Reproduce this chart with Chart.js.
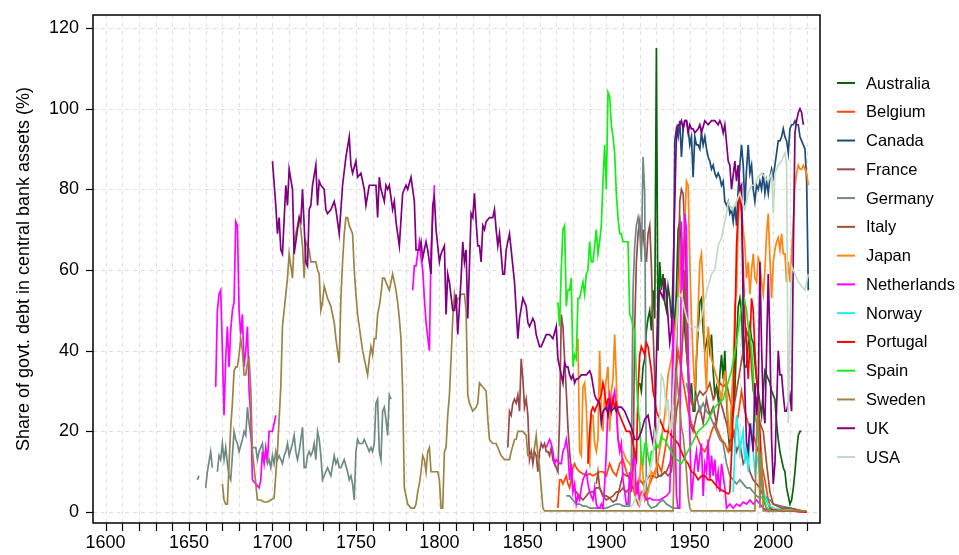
<!DOCTYPE html>
<html>
<head>
<meta charset="utf-8">
<script src="https://cdn.jsdelivr.net/npm/chart.js@4.4.1/dist/chart.umd.min.js"></script>
<style>
  html, body { margin: 0; padding: 0; background: #fff; }
  #wrap { width: 959px; height: 555px; }
</style>
</head>
<body>
<div id="wrap"><canvas id="chart" width="959" height="555"></canvas></div>
<script>
// --- data: [year, share %] ---
const countries = ["Australia","Belgium","Canada","France","Germany","Italy","Japan",
                   "Netherlands","Norway","Portugal","Spain","Sweden","UK","USA"];

const australia = [[1920,32],[1921,30],[1922,36],[1923,38],[1924,45],[1925,48],[1926,50],[1927,45],[1928,55],[1929,48],[1930,115],[1931,40],[1932,62],[1933,55],[1934,59],[1935,52],[1936,50],[1937,56],[1938,53],[1939,48],[1940,52],[1941,45],[1942,55],[1943,70],[1944,72],[1945,60],[1946,59],[1947,45],[1948,40],[1949,35],[1950,28],[1951,32],[1952,25],[1953,25],[1954,38],[1955,45],[1956,52],[1957,53],[1958,45],[1959,40],[1960,42],[1961,44],[1962,40],[1963,44],[1964,35],[1965,29],[1966,31],[1967,28],[1968,34],[1969,39],[1970,33],[1971,40],[1972,28],[1973,20],[1974,15],[1975,25],[1976,24],[1977,30],[1978,42],[1979,51],[1980,53],[1981,49],[1982,38],[1983,36],[1984,36],[1985,42],[1986,46],[1987,43],[1988,42],[1989,37],[1990,33],[1991,30],[1992,27],[1993,24],[1994,30],[1995,35],[1996,34],[1997,33],[1998,32],[1999,30],[2000,29],[2001,28],[2002,22],[2003,18],[2004,15],[2005,13],[2006,11],[2007,10],[2008,6],[2009,4],[2010,2],[2011,3],[2012,6],[2013,10],[2014,15],[2015,19],[2016,20],[2017,20]];

const belgium = [[1871,1],[1872,8],[1873,8],[1874,7],[1875,8],[1876,9],[1877,7],[1878,6],[1879,8],[1880,11],[1881,12],[1882,11],[1884,10],[1886,9.5],[1888,9],[1890,9.5],[1892,9],[1894,9.5],[1896,10],[1898,10],[1900,9],[1902,12],[1904,10],[1906,9],[1908,12],[1910,13],[1912,10],[1914,8],[1916,6],[1917,4.5],[1918,3],[1919,2],[1920,4],[1921,5],[1923,4],[1925,6],[1927,8],[1929,10],[1931,12],[1933,10],[1935,15],[1937,20],[1939,25],[1941,30],[1943,40],[1945,35],[1947,30],[1949,25],[1951,22],[1953,20],[1955,18],[1957,16],[1959,15],[1961,17],[1963,20],[1965,22],[1967,20],[1969,18],[1971,17],[1973,15],[1975,18],[1977,20],[1979,24],[1981,30],[1983,25],[1985,22],[1987,20],[1989,18],[1991,15],[1993,12],[1995,8],[1997,3],[1999,0.5],[2005,0.3],[2010,0.3],[2020,0]];

const canada = [[1940,44],[1941,92],[1942,95],[1943,93],[1944,97],[1945,88],[1946,95],[1947,97],[1948,97],[1949,95],[1950,91],[1951,93],[1952,83],[1953,93],[1954,91],[1955,91],[1956,90],[1957,94],[1958,91],[1959,93],[1960,90],[1961,88],[1962,87],[1963,85],[1964,86],[1965,84],[1966,83],[1967,84],[1968,83],[1969,81],[1970,82],[1971,77],[1972,76],[1973,77],[1974,74],[1975,75],[1976,72],[1977,76],[1978,71],[1979,80],[1980,86],[1981,91],[1982,86],[1983,76],[1984,85],[1985,91],[1986,84],[1987,86],[1988,80],[1989,77],[1990,81],[1991,80],[1992,82],[1993,80],[1994,84],[1995,79],[1996,82],[1997,79],[1998,83],[1999,85],[2000,83],[2001,86],[2002,89],[2003,92],[2004,92],[2005,93],[2006,95],[2007,93],[2008,92],[2009,89],[2010,95],[2011,96],[2012,96],[2013,97],[2014,96],[2015,96],[2016,93],[2017,92],[2018,91],[2019,90],[2020,82],[2021,55]];

const france = [[1841,16],[1842,25],[1843,24],[1844,27],[1845,28],[1846,27],[1847,29],[1848,25],[1849,38],[1850,33],[1851,26],[1852,28],[1853,24],[1854,13],[1855,15],[1856,12],[1857,15],[1858,14],[1859,10],[1860,15],[1861,17],[1862,16],[1863,17],[1864,15],[1865,15],[1866,14],[1867,16],[1868,13],[1869,12],[1870,11],[1871,10],[1872,23],[1873,49],[1874,46],[1875,38],[1876,30],[1877,21],[1878,15],[1879,10],[1880,6],[1882,5],[1884,4],[1886,3],[1888,4],[1890,5],[1892,5],[1894,6],[1896,6],[1898,4],[1900,3],[1902,3.5],[1904,2.5],[1906,3],[1908,6],[1910,9.6],[1912,9],[1914,9],[1916,10],[1917,46],[1918,62],[1919,69],[1920,72],[1921,66],[1922,70],[1923,65],[1924,62],[1925,69],[1926,71],[1927,61],[1928,45],[1929,33],[1930,12],[1931,9],[1933,9],[1935,10],[1937,9],[1939,10],[1940,15],[1941,25],[1942,40],[1943,54],[1944,77],[1945,80],[1946,79],[1947,70],[1948,55],[1949,35],[1950,22],[1952,20],[1954,24],[1956,26],[1958,22],[1960,28],[1962,24],[1964,26],[1966,22],[1968,28],[1970,25],[1972,22],[1974,18],[1976,20],[1978,15],[1980,17],[1982,12],[1984,14],[1986,10],[1988,8],[1990,7],[1992,6],[1994,4],[1996,3],[1998,1],[2000,0.5],[2005,0.3],[2010,0.5],[2015,0.3],[2020,0]];

const germany = [[1655,8],[1656,9],[1657,null],[1660,6],[1661,10],[1663,15],[1664,11],[1665,null],[1667,10],[1668,14],[1669,13],[1670,17],[1671,13],[1672,16],[1673,12],[1674,9],[1675,8],[1676,14],[1677,20],[1678,18],[1679,17],[1680,15],[1682,18],[1683,20],[1684,19],[1685,26],[1686,22],[1687,19],[1688,16],[1689,16],[1690,16],[1691,13],[1692,15],[1694,17],[1695,13],[1696,14],[1697,12],[1698,13],[1699,11],[1700,14],[1701,12],[1702,15],[1703,13],[1704,14],[1705,13],[1706,12],[1707,14],[1708,15],[1709,17],[1710,14],[1712,17],[1713,19],[1714,15],[1715,13],[1716,15],[1718,21],[1719,11],[1720,11],[1721,14],[1722,15],[1723,14],[1724,15],[1725,17],[1726,13],[1727,20],[1728,18],[1729,14],[1730,8],[1731,9],[1732,10],[1733,11],[1734,10],[1735,9],[1737,14],[1738,12],[1739,13],[1740,11],[1741,11],[1742,12],[1743,13],[1745,10],[1746,8],[1747,9],[1748,7],[1749,3],[1750,15],[1751,18],[1752,17],[1753,17],[1754,17],[1755,18],[1756,17],[1757,16],[1758,15],[1759,16],[1760,15],[1761,17],[1762,27],[1763,28],[1764,15],[1765,13],[1766,25],[1767,26],[1768,23],[1769,19],[1770,29],[1771,28],[1772,null],
  [1876,4],[1878,4],[1880,3],[1882,2],[1884,2],[1886,1.5],[1888,1.5],[1890,1],[1893,1],[1896,1],[1900,1],[1903,1.5],[1906,2],[1908,2],[1910,1.5],[1912,1.5],[1914,1.5],[1915,13],[1916,55],[1917,66],[1918,71],[1919,73],[1920,70],[1921,62],[1922,88],[1923,79],[1924,5],[1925,2],[1927,1],[1930,1.5],[1932,2.5],[1934,3],[1936,2],[1938,1.5],[1940,1],[1942,1],[1944,1],[1946,null],[1948,32],[1950,28],[1952,26],[1954,29],[1956,25],[1958,27],[1960,25],[1962,24],[1964,22],[1966,20],[1968,18],[1970,17],[1972,12],[1974,9],[1976,8],[1978,7],[1980,8],[1982,7],[1984,6],[1986,6],[1988,5],[1990,4],[1992,3.5],[1995,4],[1998,3],[2000,2],[2005,1.5],[2010,1],[2015,0.5],[2020,0.2]];

const italy = [[1894,7],[1895,10],[1896,6],[1897,5],[1898,4],[1900,4],[1902,3.5],[1904,4],[1906,5],[1908,5],[1910,6],[1912,5],[1914,6],[1916,6],[1918,7],[1920,8],[1922,7],[1924,8],[1926,9],[1928,9],[1930,8.5],[1932,9],[1934,9.5],[1936,10],[1938,12],[1940,15],[1942,25],[1944,30],[1946,45],[1947,60],[1948,40],[1950,30],[1952,26],[1954,28],[1956,30],[1958,29],[1960,30],[1962,32],[1964,28],[1966,30],[1968,32],[1970,31],[1972,32],[1974,28],[1976,25],[1978,30],[1980,35],[1982,40],[1984,45],[1986,42],[1988,30],[1990,28],[1992,22],[1994,20],[1996,12],[1998,5],[2000,2],[2005,1],[2010,1],[2015,0.5],[2020,0]];

const japan = [[1882,40],[1883,43],[1884,15],[1885,14],[1886,31],[1887,32],[1888,26],[1889,14],[1890,12],[1891,24],[1892,24],[1893,17],[1894,15],[1895,18],[1896,40],[1897,25],[1898,20],[1899,30],[1900,33],[1901,36],[1902,20],[1903,30],[1904,33],[1905,44],[1906,33],[1907,18],[1908,17],[1909,15],[1910,15],[1912,13],[1914,12],[1916,10],[1917,5.5],[1918,4],[1920,8],[1921,15],[1922,9],[1923,3],[1925,5],[1927,10],[1929,9],[1931,13],[1933,18],[1935,24],[1937,34],[1939,38],[1941,45],[1943,53],[1944,60],[1945,68],[1946,62],[1947,72],[1948,82],[1949,81],[1950,62],[1951,48],[1952,38],[1953,30],[1954,38],[1955,50],[1956,62],[1957,64],[1958,55],[1959,38],[1960,30],[1961,46],[1962,42],[1963,38],[1965,35],[1967,32],[1969,28],[1971,35],[1972,30],[1973,22],[1974,18],[1975,28],[1976,35],[1977,51],[1978,55],[1979,72],[1980,80],[1981,75],[1982,70],[1983,66],[1984,58],[1985,62],[1986,54],[1987,60],[1988,64],[1989,58],[1990,57],[1991,63],[1992,62],[1993,57],[1994,54],[1995,60],[1996,69],[1997,74],[1998,63],[1999,53],[2000,62],[2001,65],[2002,67],[2003,68],[2004,65],[2005,69],[2006,64],[2007,64],[2008,57],[2009,62],[2010,57],[2011,64],[2012,72],[2013,81],[2014,84],[2015,86],[2016,85],[2017,85],[2018,86],[2019,85],[2020,84],[2021,81]];

const netherlands = [[1666,31],[1667,50],[1668,54],[1669,55],[1670,40],[1671,24],[1672,38],[1673,46],[1674,36],[1675,45],[1676,50],[1677,52],[1678,72],[1679,71],[1680,50],[1681,44],[1682,49],[1683,36],[1684,40],[1685,46],[1686,30],[1687,24],[1688,8],[1690,7],[1692,6],[1693,8],[1694,15],[1695,12],[1696,16],[1697,13],[1698,20],[1700,20],[1702,24],[1703,null],
  [1784,55],[1785,61],[1786,61],[1788,67],[1789,63],[1790,60],[1791,53],[1792,47],[1794,40],[1795,65],[1797,81],[1798,null],
  [1864,16],[1866,18],[1867,17],[1868,15],[1869,12],[1870,13],[1872,12],[1873,12],[1874,15],[1875,16],[1876,18],[1877,15],[1878,8],[1879,12],[1880,5],[1881,7],[1882,2],[1883,4],[1884,3],[1885,6],[1886,8],[1887,9],[1888,10],[1889,7],[1890,5],[1891,4],[1892,3],[1893,6],[1894,2],[1895,1],[1896,1],[1897,2],[1898,1],[1899,7],[1900,15],[1901,26],[1902,29],[1903,26],[1904,28],[1905,30],[1906,25],[1907,18],[1908,15],[1909,17],[1910,8],[1911,5],[1912,2],[1913,2],[1914,10],[1915,5],[1916,13],[1917,14],[1918,4],[1919,7],[1920,2],[1922,5],[1924,3],[1926,3.5],[1928,3],[1930,3],[1932,3],[1934,3.5],[1936,4],[1938,5],[1939,20],[1940,48],[1941,25],[1942,4],[1943,1],[1944,1],[1945,72],[1946,55],[1947,74],[1948,70],[1949,40],[1950,20],[1951,3],[1952,8],[1953,12],[1954,15],[1955,10],[1956,14],[1957,17],[1958,4],[1959,12],[1960,10],[1961,18],[1962,8],[1963,14],[1964,9],[1965,13],[1966,7],[1967,10],[1968,5],[1969,12],[1970,9],[1971,6],[1972,1],[1974,2],[1976,1],[1978,2],[1980,1.5],[1982,2.5],[1984,2],[1986,3],[1988,2],[1990,3],[1992,2],[1994,1],[1996,0.5],[1998,0]];

const norway = [[1976,5],[1977,15],[1978,24],[1979,20],[1980,15],[1981,18],[1982,20],[1983,12],[1984,17],[1985,10],[1986,18],[1987,22],[1988,15],[1989,10],[1990,12],[1991,14],[1992,9],[1993,10],[1994,6],[1995,4],[1996,3],[1997,2],[1998,1.5],[2000,1],[2005,0.5],[2010,0.5],[2020,0]];

const portugal = [[1889,12],[1890,20],[1891,25],[1892,26],[1893,25],[1894,26],[1895,27],[1896,28],[1897,29],[1898,32],[1899,30],[1900,26],[1901,28],[1902,28],[1903,25],[1904,28],[1905,26],[1906,27],[1907,25],[1908,24],[1909,23],[1910,22],[1911,21],[1912,20],[1913,20],[1914,20],[1915,19],[1916,17],[1917,15],[1918,13],[1919,30],[1920,39],[1921,41],[1922,40],[1923,39],[1924,42],[1925,41],[1926,38],[1927,35],[1928,30],[1929,28],[1930,25],[1931,24],[1933,22],[1935,20],[1937,20],[1939,19],[1941,18],[1943,17],[1945,15],[1947,13],[1949,12],[1951,10],[1953,9.5],[1955,8],[1957,9],[1959,9],[1961,8],[1963,8],[1965,7],[1967,6],[1969,5.5],[1971,5],[1973,4.5],[1974,5],[1975,14],[1976,25],[1977,45],[1978,66],[1979,75],[1980,80],[1981,74],[1982,60],[1983,48],[1984,41],[1985,33],[1986,42],[1987,53],[1988,50],[1989,40],[1990,33],[1991,29],[1992,20],[1993,12],[1994,4],[1995,2],[1996,1],[1998,0.5],[2000,0.5],[2010,0.3],[2020,0]];

const spain = [[1871,52],[1872,46],[1873,60],[1874,70],[1875,71],[1876,51],[1877,55],[1878,55],[1879,58],[1880,36],[1881,39],[1882,38],[1883,53],[1884,53],[1885,55],[1886,57],[1887,54],[1888,59],[1889,60],[1890,67],[1891,62],[1892,62],[1893,66],[1894,70],[1895,64],[1896,67],[1897,71],[1898,82],[1899,91],[1900,80],[1901,104],[1902,103],[1903,96],[1904,93],[1905,89],[1906,79],[1907,73],[1908,69],[1909,69],[1910,67],[1911,67],[1912,67],[1913,67],[1914,49],[1915,48],[1916,46],[1917,45],[1918,33],[1919,26],[1920,22],[1921,13],[1922,12],[1923,17],[1924,17],[1925,14],[1926,12],[1927,15],[1928,15],[1929,16],[1930,17],[1931,16],[1932,17],[1933,19],[1934,18],[1935,18],[1940,14],[1945,12],[1950,16],[1955,20],[1960,22],[1965,26],[1970,28],[1975,35],[1978,42],[1980,48],[1982,54],[1983,52],[1984,50],[1985,46],[1986,44],[1987,40],[1988,35],[1989,24],[1990,22],[1991,18],[1992,12],[1993,8],[1994,4],[1996,1],[1998,0.5],[2000,0]];

const sweden = [[1670,7],[1671,3],[1672,2],[1673,2],[1674,12],[1675,21],[1676,27],[1677,35],[1678,36],[1679,36],[1680,39],[1681,43],[1682,40],[1683,34],[1684,34],[1685,37],[1686,38],[1687,31],[1688,15],[1689,11],[1690,7],[1691,3],[1693,3],[1695,2.5],[1697,2.5],[1699,3],[1701,3.5],[1703,15],[1705,31],[1706,46],[1708,54],[1709,58],[1710,64],[1712,58],[1713,67],[1715,71],[1716,73],[1717,70],[1718,66],[1719,58],[1720,67],[1721,66],[1722,65],[1723,62],[1724,62],[1726,62],[1727,60],[1728,59],[1729,50],[1730,52],[1731,56],[1733,53],[1735,51],[1737,47],[1738,43],[1740,37],[1741,53],[1742,62],[1743,69],[1744,73],[1745,73],[1746,71],[1748,69],[1749,60],[1750,54],[1751,49],[1752,46],[1753,43],[1754,40],[1756,36],[1757,34],[1758,38],[1759,41],[1760,39],[1761,43],[1762,43],[1763,49],[1764,51],[1765,54],[1766,58],[1767,58],[1768,57],[1769,56],[1770,55],[1771,57],[1772,59],[1774,55],[1775,52],[1776,48],[1777,43],[1778,30],[1779,6],[1780,4],[1781,2],[1783,1],[1785,1],[1786,2],[1787,5],[1788,7],[1789,10],[1790,14],[1791,13],[1792,10],[1793,15],[1794,16],[1795,10],[1797,10],[1799,10],[1800,8],[1801,1],[1802,1],[1803,15],[1804,16],[1805,24],[1806,29],[1807,38],[1808,48],[1809,54],[1810,51],[1811,53],[1812,53],[1813,54],[1815,54],[1816,50],[1817,29],[1818,27],[1820,25],[1822,26],[1823,27],[1824,32],[1826,31],[1828,30],[1829,23],[1830,18],[1832,17],[1834,17],[1836,15],[1837,14],[1839,13],[1840,13],[1842,13],[1843,15],[1845,18],[1846,18],[1847,20],[1849,20],[1850,20],[1852,19],[1853,14],[1854,14],[1856,14],[1857,16],[1858,19],[1859,14],[1860,11],[1861,6],[1862,1],[1863,0.3],[1900,0.3],[1940,0.3],[1941,22],[1942,35],[1943,30],[1944,26],[1945,21],[1946,19],[1947,15],[1948,10],[1949,4],[1950,1],[1951,0.3],[1989,0.3],[1990,20],[1991,28],[1992,1],[1993,15],[1994,0.3],[2020,0.3]];

const uk = [[1700,87],[1702,76],[1703,69],[1704,73],[1705,65],[1706,64],[1708,81],[1709,76],[1710,85],[1712,80],[1713,64],[1715,70],[1716,73],[1717,72],[1718,80],[1720,62],[1721,61],[1722,75],[1723,76],[1724,81],[1726,86],[1727,76],[1728,82],[1729,81],[1731,80],[1732,75],[1733,74],[1735,75],[1737,77],[1738,75],[1740,69],[1742,81],[1744,88],[1746,93],[1747,86],[1748,84],[1750,87],[1751,83],[1753,84],[1755,80],[1756,76],[1758,81],[1760,81],[1762,81],[1763,73],[1764,83],[1765,80],[1767,77],[1768,81],[1769,80],[1770,81],[1772,75],[1773,77],[1774,72],[1776,66],[1778,79],[1780,81],[1781,80],[1783,83],[1785,77],[1786,65],[1788,65],[1789,67],[1790,63],[1792,67],[1793,65],[1795,59],[1796,76],[1797,78],[1798,70],[1800,62],[1801,64],[1803,66],[1804,49],[1805,59],[1806,57],[1808,50],[1809,50],[1810,54],[1811,44],[1813,58],[1814,67],[1815,62],[1816,65],[1817,48],[1819,74],[1820,73],[1821,79],[1822,72],[1823,66],[1824,66],[1825,62],[1826,71],[1827,70],[1828,72],[1830,73],[1832,73],[1833,75],[1834,70],[1835,66],[1836,69],[1838,59],[1839,59],[1840,65],[1842,69],[1843,65],[1845,57],[1847,43],[1848,48],[1850,53],[1852,51],[1853,47],[1854,46],[1856,48],[1857,47],[1858,44],[1860,41],[1861,41],[1863,43],[1864,44],[1866,44],[1868,43],[1870,46],[1871,38],[1873,34],[1874,32],[1875,37],[1876,36],[1877,36],[1878,34],[1879,33],[1880,34],[1881,32],[1882,33],[1883,33],[1885,34],[1887,34],[1888,34],[1890,35],[1891,34],[1893,29],[1894,28],[1896,27],[1897,22],[1898,25],[1900,26],[1901,24],[1902,27],[1903,25],[1905,26],[1906,25],[1907,26],[1909,26],[1911,25],[1912,24],[1914,22],[1915,21],[1917,18],[1919,18],[1921,20],[1923,23],[1925,24],[1927,19],[1928,17],[1929,21],[1930,38],[1931,53],[1932,55],[1934,53],[1935,58],[1936,54],[1937,48],[1938,42],[1939,45],[1940,59],[1942,94],[1943,96],[1944,96],[1945,97],[1946,95],[1947,97],[1948,97],[1949,94],[1950,96],[1951,95],[1952,95],[1953,94],[1955,95],[1956,96],[1957,94],[1959,97],[1961,96],[1963,97],[1965,97],[1967,96],[1968,97],[1969,96],[1970,94],[1971,96],[1973,87],[1974,86],[1975,80],[1977,87],[1978,82],[1979,86],[1980,80],[1981,81],[1982,49],[1983,30],[1984,17],[1985,15],[1986,22],[1987,19],[1988,15],[1989,32],[1990,24],[1991,29],[1992,62],[1993,41],[1994,26],[1995,22],[1996,40],[1997,59],[1998,43],[1999,18],[2000,7],[2001,12],[2002,26],[2003,40],[2004,34],[2005,34],[2006,29],[2007,25],[2008,25],[2009,27],[2010,29],[2011,25],[2012,64],[2013,94],[2014,97],[2015,99],[2016,100],[2017,99],[2018,96]];

const usa = [[1914,1],[1916,2],[1918,4],[1920,2],[1922,5],[1924,8],[1926,10],[1928,14],[1929,20],[1930,18],[1932,24],[1933,34],[1934,33],[1935,30],[1936,25],[1937,28],[1938,20],[1939,21],[1940,30],[1941,38],[1942,45],[1943,53],[1945,54],[1947,50],[1949,47],[1951,46],[1953,46],[1955,45],[1957,48],[1959,53],[1961,56],[1963,59],[1965,60],[1967,66],[1969,68],[1971,72],[1972,74],[1973,77],[1975,75],[1977,76],[1979,78],[1980,79],[1982,76],[1983,75],[1985,79],[1987,81],[1989,81],[1991,83],[1993,84],[1995,83],[1997,82],[1999,84],[2000,74],[2001,84],[2003,86],[2005,87],[2007,89],[2008,86],[2009,22],[2010,45],[2011,61],[2013,59],[2015,57],[2017,56],[2019,55],[2021,59]];

const xTickYears = [1600,1650,1700,1750,1800,1850,1900,1950,2000];
const yTickValues = [0,20,40,60,80,100,120];

// --- styling ---
const colors = ["#0b640b","#ff4800","#1d4c78","#9a4848","#6d8b84","#a0522d","#ff8410",
                "#ff00ff","#19f0f0","#ff0000","#14ee14","#9c8446","#800080","#c2dcc4"];
const seriesData = [australia, belgium, canada, france, germany, italy, japan,
                    netherlands, norway, portugal, spain, sweden, uk, usa];

const FONT = "'Liberation Sans', Arial, sans-serif";

const frame = {
  id: 'frame',
  beforeDatasetsDraw(chart) {
    const { ctx, chartArea: a, scales: { x, y } } = chart;
    ctx.save();
    ctx.strokeStyle = '#dedede';
    ctx.lineWidth = 1;
    ctx.setLineDash([4, 4]);
    for (let yr = 1600; yr <= 2020; yr += 10) {
      const px = Math.round(x.getPixelForValue(yr)) + 0.5;
      ctx.beginPath(); ctx.moveTo(px, a.top); ctx.lineTo(px, a.bottom); ctx.stroke();
    }
    yTickValues.forEach(v => {
      const py = Math.round(y.getPixelForValue(v)) + 0.5;
      ctx.beginPath(); ctx.moveTo(a.left, py); ctx.lineTo(a.right, py); ctx.stroke();
    });
    ctx.restore();
  },
  afterDraw(chart) {
    const { ctx, chartArea: a, scales: { x, y } } = chart;
    ctx.save();
    ctx.strokeStyle = '#000';
    ctx.lineWidth = 1.5;
    ctx.setLineDash([]);
    ctx.strokeRect(a.left, a.top, a.right - a.left, a.bottom - a.top);
    ctx.lineWidth = 1.2;
    for (let yr = 1600; yr <= 2020; yr += 10) {
      const px = Math.round(x.getPixelForValue(yr)) + 0.5;
      ctx.beginPath(); ctx.moveTo(px, a.bottom); ctx.lineTo(px, a.bottom + 8); ctx.stroke();
    }
    yTickValues.forEach(v => {
      const py = Math.round(y.getPixelForValue(v)) + 0.5;
      ctx.beginPath(); ctx.moveTo(a.left - 7, py); ctx.lineTo(a.left, py); ctx.stroke();
    });

    // y axis title
    ctx.fillStyle = '#000';
    ctx.font = '18px ' + FONT;
    ctx.textAlign = 'center';
    ctx.textBaseline = 'middle';
    ctx.translate(24, (a.top + a.bottom) / 2);
    ctx.rotate(-Math.PI / 2);
    ctx.fillText('Share of govt. debt in central bank assets (%)', 0, 0);
    ctx.setTransform(1, 0, 0, 1, 0, 0);

    // legend
    ctx.font = '16.5px ' + FONT;
    ctx.textAlign = 'left';
    chart.data.datasets.forEach((ds, i) => {
      const ly = 83 + i * 28.77;
      ctx.strokeStyle = ds.borderColor;
      ctx.lineWidth = 2;
      ctx.beginPath(); ctx.moveTo(837, ly); ctx.lineTo(855, ly); ctx.stroke();
      ctx.fillText(ds.label, 866, ly + 1);
    });
    ctx.restore();
  }
};

new Chart(document.getElementById('chart'), {
  type: 'line',
  data: {
    datasets: countries.map((name, i) => ({
      label: name,
      data: seriesData[i].map(([yr, v]) => ({ x: yr, y: v })),
      borderColor: colors[i],
      backgroundColor: colors[i],
      borderWidth: 1.7,
      pointRadius: 0,
      tension: 0,
      spanGaps: false,
      order: countries.length - i
    }))
  },
  options: {
    responsive: false,
    animation: false,
    devicePixelRatio: 1,
    layout: { padding: { top: 15, right: 139, left: 0, bottom: 0 } },
    plugins: { legend: { display: false }, tooltip: { enabled: false } },
    scales: {
      x: {
        type: 'linear', min: 1592.5, max: 2028,
        grid: { display: false, drawTicks: false },
        border: { display: false },
        afterBuildTicks: s => { s.ticks = xTickYears.map(v => ({ value: v })); },
        afterFit: s => { s.height = 32; s.paddingLeft = 0; s.paddingRight = 0; },
        ticks: { color: '#000', font: { family: FONT, size: 18 }, padding: 9,
                 maxRotation: 0, autoSkip: false, callback: v => String(v) }
      },
      y: {
        min: -2.7, max: 123.2,
        grid: { display: false, drawTicks: false },
        border: { display: false },
        afterBuildTicks: s => { s.ticks = yTickValues.map(v => ({ value: v })); },
        afterFit: s => { s.width = 93; s.paddingTop = 0; s.paddingBottom = 0; },
        ticks: { color: '#000', font: { family: FONT, size: 18 }, padding: 14,
                 callback: v => String(v) }
      }
    }
  },
  plugins: [frame]
});
</script>
</body>
</html>
